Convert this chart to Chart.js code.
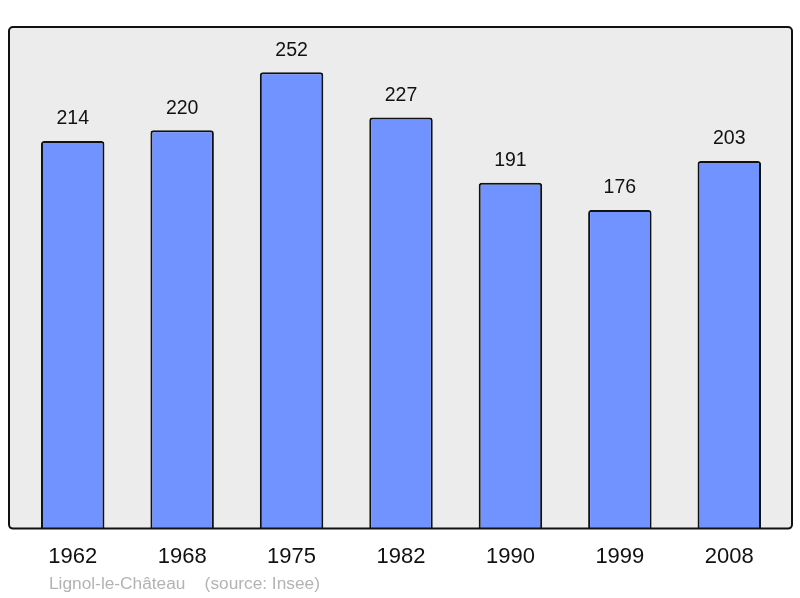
<!DOCTYPE html>
<html>
<head>
<meta charset="utf-8">
<script src="https://cdn.jsdelivr.net/npm/chart.js@4"></script>
<style>
    body { margin: 0; background: #fff; }
    #wrap { width: 800px; height: 598px; }
</style>
</head>
<body>
<div id="wrap"><canvas id="pop" width="800" height="598"></canvas></div>
<script>
const years = ["1962", "1968", "1975", "1982", "1990", "1999", "2008"];
const population = [214, 220, 252, 227, 191, 176, 203];
const sourceText = "Lignol-le-Château    (source: Insee)";

const frame = {
    id: "frame",
    beforeDatasetsDraw(chart) {
        const a = chart.chartArea, ctx = chart.ctx;
        ctx.save();
        ctx.fillStyle = "#ececec";
        ctx.beginPath();
        ctx.roundRect(a.left - 9, a.top, a.width + 17, a.height, 4);
        ctx.fill();
        ctx.restore();
    },
    afterDatasetsDraw(chart) {
        const a = chart.chartArea, ctx = chart.ctx;
        ctx.save();
        ctx.strokeStyle = "#111";
        ctx.lineWidth = 2;
        ctx.beginPath();
        ctx.roundRect(a.left - 9, a.top, a.width + 17, a.height, 4);
        ctx.stroke();

        // value labels over the bars
        ctx.fillStyle = "#111";
        ctx.font = "19.5px 'Liberation Sans', Arial, sans-serif";
        ctx.textAlign = "center";
        ctx.textBaseline = "middle";
        chart.getDatasetMeta(0).data.forEach((bar, i) => {
            ctx.fillText(population[i], bar.x, bar.y - 22);
        });

        ctx.fillStyle = "#b3b3b3";
        ctx.font = "17.3px 'Liberation Sans', Arial, sans-serif";
        ctx.textAlign = "left";
        ctx.fillText(sourceText, 49, 584);
        ctx.restore();
    }
};

new Chart(document.getElementById("pop"), {
    type: "bar",
    data: {
        labels: years,
        datasets: [{
            data: population,
            backgroundColor: "#7093ff",
            borderColor: "#111",
            borderWidth: 2,
            borderSkipped: "bottom",
            borderRadius: { topLeft: 3, topRight: 3 },
            barPercentage: 0.58,
            categoryPercentage: 1
        }]
    },
    options: {
        responsive: false,
        animation: false,
        layout: { padding: { left: 18, right: 16, top: 27, bottom: 13 } },
        plugins: { legend: { display: false }, tooltip: { enabled: false } },
        scales: {
            x: {
                grid: { display: false, drawTicks: false },
                border: { display: false },
                ticks: {
                    padding: 15,
                    color: "#111",
                    font: { family: "'Liberation Sans', Arial, sans-serif", size: 22 }
                }
            },
            y: { display: false, min: 0, max: 277 }
        }
    },
    plugins: [frame]
});
</script>
</body>
</html>
